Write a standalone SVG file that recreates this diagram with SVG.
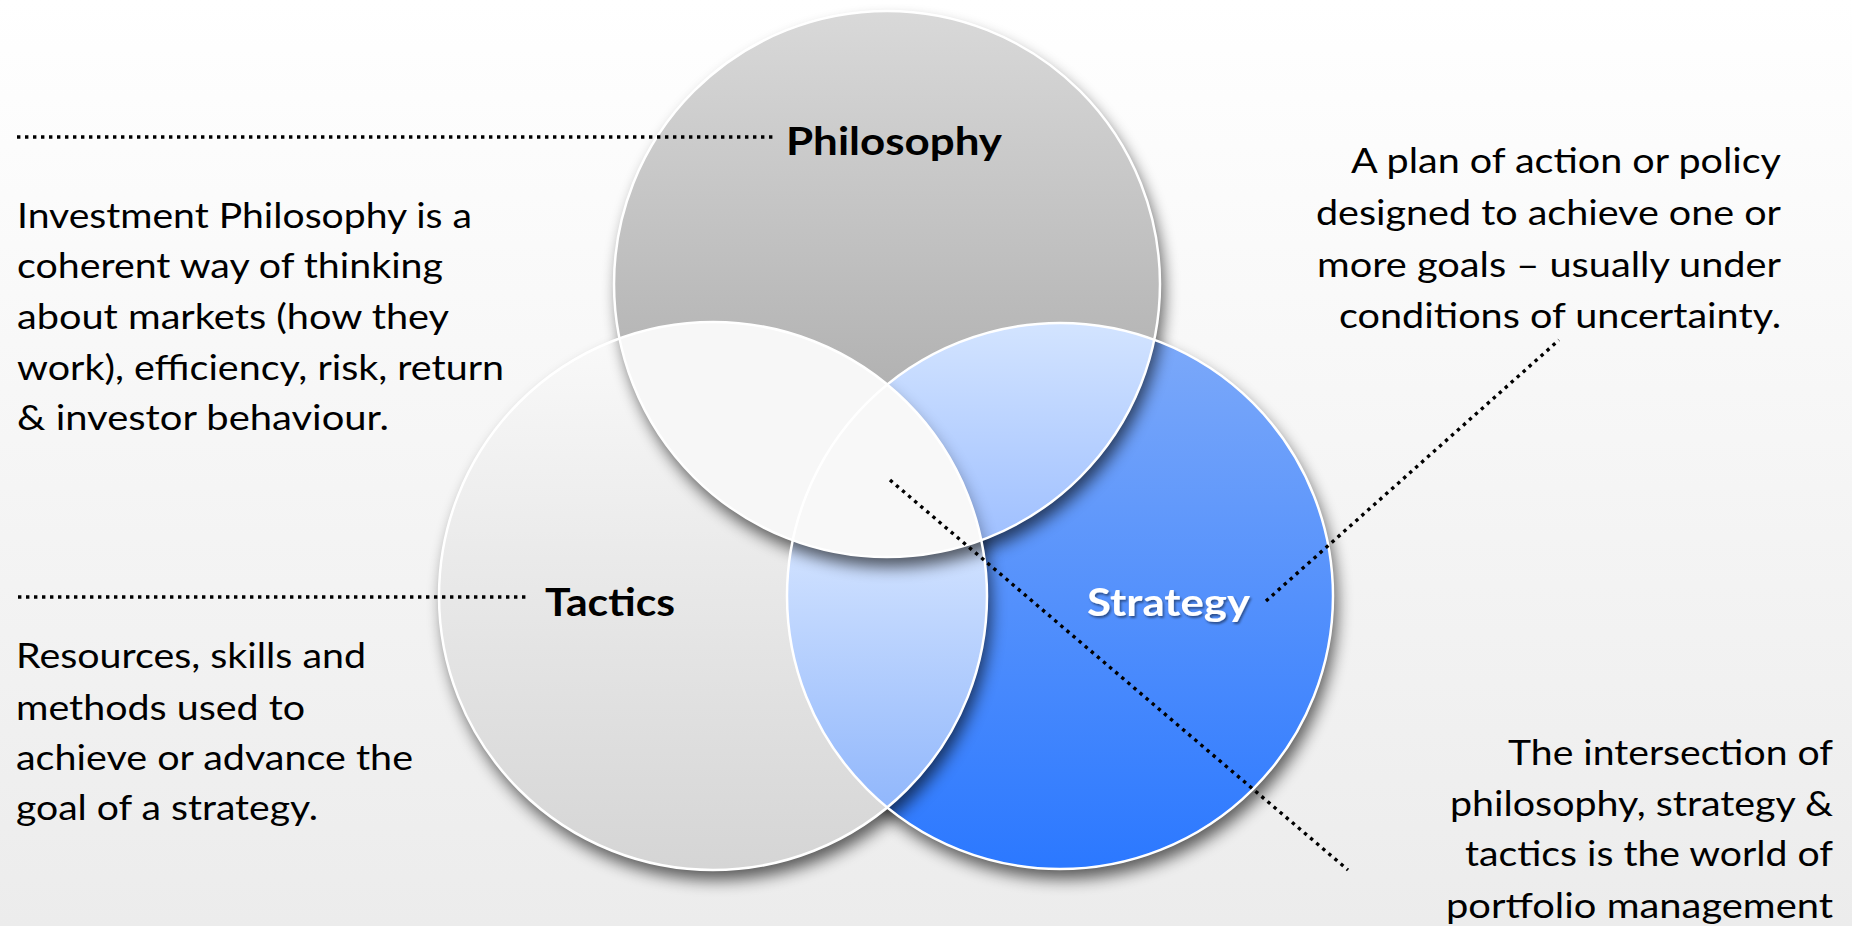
<svg xmlns="http://www.w3.org/2000/svg" width="1852" height="926" viewBox="0 0 1852 926">
<style>
.body{font-family:Lato,"Liberation Sans",sans-serif;font-size:35px;fill:#000}
.lbl{font-family:Lato,"Liberation Sans",sans-serif;font-size:39px;font-weight:bold;fill:#000}
.lbl-w{fill:#fff}
.edge{fill:none;stroke:#fff;stroke-width:2.5}
.dot{fill:none;stroke:#000;stroke-width:3.4;stroke-dasharray:3.4 4.6}
.shd{fill:#000;opacity:0.62}
</style>
<defs>
<linearGradient id="bg" x1="0" y1="0" x2="0" y2="926" gradientUnits="userSpaceOnUse"><stop offset="0" stop-color="#ffffff"/><stop offset="1" stop-color="#ececec"/></linearGradient>
<linearGradient id="gP" x1="0" y1="10" x2="0" y2="557" gradientUnits="userSpaceOnUse"><stop offset="0" stop-color="#d9d9d9"/><stop offset="1" stop-color="#a0a0a0"/></linearGradient>
<linearGradient id="gT" x1="0" y1="322" x2="0" y2="870" gradientUnits="userSpaceOnUse"><stop offset="0" stop-color="#fafafa"/><stop offset="1" stop-color="#d5d5d5"/></linearGradient>
<linearGradient id="gS" x1="0" y1="323" x2="0" y2="869" gradientUnits="userSpaceOnUse"><stop offset="0" stop-color="#7eaaf9"/><stop offset="1" stop-color="#2b78ff"/></linearGradient>
<linearGradient id="gPS" x1="0" y1="323" x2="0" y2="545" gradientUnits="userSpaceOnUse"><stop offset="0" stop-color="#d3e4ff"/><stop offset="1" stop-color="#9ebfff"/></linearGradient>
<linearGradient id="gTS" x1="0" y1="545" x2="0" y2="869" gradientUnits="userSpaceOnUse"><stop offset="0" stop-color="#d1e2ff"/><stop offset="1" stop-color="#82adfb"/></linearGradient>
<filter id="blur" x="-20%" y="-20%" width="140%" height="140%"><feGaussianBlur stdDeviation="8"/></filter>
<filter id="tshadow" x="-10%" y="-20%" width="120%" height="150%"><feDropShadow dx="1.5" dy="2" stdDeviation="1.2" flood-color="#000" flood-opacity="0.45"/></filter>
<clipPath id="cP"><circle cx="887" cy="284" r="273"/></clipPath>
<clipPath id="cT"><circle cx="713" cy="596" r="274"/></clipPath>
<clipPath id="cS"><circle cx="1060" cy="596" r="273"/></clipPath>
</defs>
<rect id="background" x="0" y="0" width="1852" height="926" fill="url(#bg)"/>

<g id="node-strategy">
<circle class="shd" cx="1064" cy="606" r="273" filter="url(#blur)"/>
<circle cx="1060" cy="596" r="273" fill="url(#gS)"/>
</g>

<g id="node-tactics">
<circle class="shd" cx="717" cy="606" r="274" filter="url(#blur)"/>
<circle cx="713" cy="596" r="274" fill="url(#gT)"/>
<circle cx="1060" cy="596" r="273" fill="url(#gTS)" clip-path="url(#cT)"/>
</g>

<g id="node-philosophy">
<circle class="shd" cx="891" cy="294" r="273" filter="url(#blur)"/>
<circle cx="887" cy="284" r="273" fill="url(#gP)"/>
<circle cx="713" cy="596" r="274" fill="#f7f7f7" clip-path="url(#cP)"/>
<circle cx="1060" cy="596" r="273" fill="url(#gPS)" clip-path="url(#cP)"/>
<g clip-path="url(#cP)"><g clip-path="url(#cS)"><circle cx="717" cy="606" r="274" fill="#000" opacity="0.35" filter="url(#blur)"/></g></g>
<g clip-path="url(#cP)"><circle cx="713" cy="596" r="274" fill="#f8f8f8" clip-path="url(#cS)"/></g>
</g>

<g id="outlines">
<circle class="edge" cx="1060" cy="596" r="273"/>
<circle class="edge" cx="713" cy="596" r="274"/>
<circle class="edge" cx="887" cy="284" r="273"/>
</g>

<g id="connectors">
<line class="dot" x1="17" y1="137" x2="775" y2="137"/>
<line class="dot" x1="18" y1="597" x2="527" y2="597"/>
<line class="dot" x1="1266" y1="601" x2="1559" y2="340"/>
<line class="dot" x1="890" y1="480" x2="1348" y2="870"/>
</g>

<g id="label-philosophy">
<text class="lbl" x="786" y="155" textLength="216" lengthAdjust="spacingAndGlyphs">Philosophy</text>
</g>
<g id="label-tactics">
<text class="lbl" x="545" y="616" textLength="130" lengthAdjust="spacingAndGlyphs">Tactics</text>
</g>
<g id="label-strategy">
<text class="lbl lbl-w" x="1087" y="616" textLength="163" lengthAdjust="spacingAndGlyphs" filter="url(#tshadow)">Strategy</text>
</g>

<g id="note-philosophy">
<text class="body" x="17" y="228" textLength="455" lengthAdjust="spacingAndGlyphs">Investment Philosophy is a</text>
<text class="body" x="17" y="278" textLength="426" lengthAdjust="spacingAndGlyphs">coherent way of thinking</text>
<text class="body" x="17" y="329" textLength="432" lengthAdjust="spacingAndGlyphs">about markets (how they</text>
<text class="body" x="17" y="380" textLength="487" lengthAdjust="spacingAndGlyphs">work), efficiency, risk, return</text>
<text class="body" x="17" y="430" textLength="372" lengthAdjust="spacingAndGlyphs">&amp; investor behaviour.</text>
</g>

<g id="note-tactics">
<text class="body" x="16" y="668" textLength="350" lengthAdjust="spacingAndGlyphs">Resources, skills and</text>
<text class="body" x="16" y="720" textLength="289" lengthAdjust="spacingAndGlyphs">methods used to</text>
<text class="body" x="16" y="770" textLength="397" lengthAdjust="spacingAndGlyphs">achieve or advance the</text>
<text class="body" x="16" y="820" textLength="302" lengthAdjust="spacingAndGlyphs">goal of a strategy.</text>
</g>

<g id="note-strategy">
<text class="body" x="1781" y="173" text-anchor="end" textLength="430" lengthAdjust="spacingAndGlyphs">A plan of action or policy</text>
<text class="body" x="1781" y="225" text-anchor="end" textLength="465" lengthAdjust="spacingAndGlyphs">designed to achieve one or</text>
<text class="body" x="1781" y="277" text-anchor="end" textLength="464" lengthAdjust="spacingAndGlyphs">more goals – usually under</text>
<text class="body" x="1781" y="328" text-anchor="end" textLength="442" lengthAdjust="spacingAndGlyphs">conditions of uncertainty.</text>
</g>

<g id="note-intersection">
<text class="body" x="1833" y="765" text-anchor="end" textLength="325" lengthAdjust="spacingAndGlyphs">The intersection of</text>
<text class="body" x="1833" y="816" text-anchor="end" textLength="383" lengthAdjust="spacingAndGlyphs">philosophy, strategy &amp;</text>
<text class="body" x="1833" y="866" text-anchor="end" textLength="368" lengthAdjust="spacingAndGlyphs">tactics is the world of</text>
<text class="body" x="1833" y="918" text-anchor="end" textLength="387" lengthAdjust="spacingAndGlyphs">portfolio management</text>
</g>
</svg>
